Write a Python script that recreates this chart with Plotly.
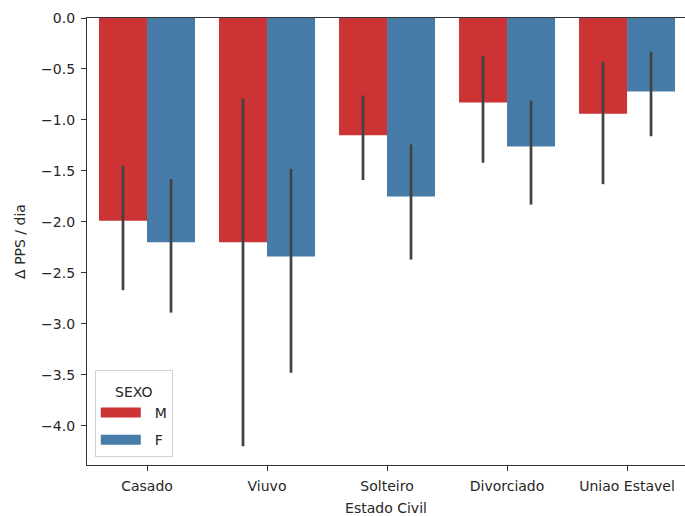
import plotly.graph_objects as go

categories = ["Casado", "Viuvo", "Solteiro", "Divorciado", "Uniao Estavel"]
m_mean = [-1.99, -2.20, -1.15, -0.83, -0.94]
m_ci_hi = [-1.45, -0.79, -0.76, -0.37, -0.43]
m_ci_lo = [-2.67, -4.20, -1.59, -1.42, -1.63]
f_mean = [-2.20, -2.34, -1.75, -1.26, -0.72]
f_ci_hi = [-1.58, -1.48, -1.24, -0.81, -0.33]
f_ci_lo = [-2.89, -3.48, -2.37, -1.83, -1.16]
yticks = [0.0, -0.5, -1.0, -1.5, -2.0, -2.5, -3.0, -3.5, -4.0]

M_COLOR = "#cb3335"
F_COLOR = "#477ca8"

def err(mean, hi, lo):
    return dict(type="data", symmetric=False,
                array=[h - m for m, h in zip(mean, hi)],
                arrayminus=[m - l for m, l in zip(mean, lo)],
                color="#424242", thickness=2.7, width=0)

fig = go.Figure()
fig.add_trace(go.Bar(x=categories, y=m_mean, name="M", marker_color=M_COLOR,
                     marker_line_width=0, showlegend=False,
                     error_y=err(m_mean, m_ci_hi, m_ci_lo)))
fig.add_trace(go.Bar(x=categories, y=f_mean, name="F", marker_color=F_COLOR,
                     marker_line_width=0, showlegend=False,
                     error_y=err(f_mean, f_ci_hi, f_ci_lo)))
# legend proxies (wide rectangle patches like matplotlib)
for name, col in [("M", M_COLOR), ("F", F_COLOR)]:
    fig.add_trace(go.Scatter(x=[None], y=[None], mode="lines", name="  " + name,
                             legendgroup=name, line=dict(color=col, width=11)))

font = dict(family="DejaVu Sans", size=14, color="#262626")
fig.update_layout(
    width=685, height=516,
    margin=dict(l=87, r=0, t=18, b=51),
    plot_bgcolor="white", paper_bgcolor="white",
    barmode="group", bargap=0.2, bargroupgap=0,
    font=font,
    legend=dict(x=0.013, y=0.018, xanchor="left", yanchor="bottom",
                bgcolor="rgba(255,255,255,0.8)", bordercolor="#d0d0d0", borderwidth=1,
                title=dict(text="<span style='font-size:14px'>SEXO</span>",
                           side="top center",
                           font=dict(family="DejaVu Sans", size=20, color="#262626")),
                font=font, tracegroupgap=6, itemwidth=40),
    xaxis=dict(range=[-0.5, 4.483], showline=True, linecolor="#333333", linewidth=1.2,
               mirror=True, ticks="outside", ticklen=5, tickcolor="#333333",
               ticklabelstandoff=3,
               showgrid=False, title=dict(text="Estado Civil", font=font, standoff=11)),
    yaxis=dict(range=[-4.385, 0], showline=True, linecolor="#333333", linewidth=1.2,
               ticks="outside", ticklen=5, tickcolor="#333333", tickvals=yticks,
               ticklabelstandoff=3,
               tickformat=".1f", showgrid=False, zeroline=False,
               title=dict(text="Δ PPS / dia", font=font, standoff=12)),
)
fig.write_html("out.html")
